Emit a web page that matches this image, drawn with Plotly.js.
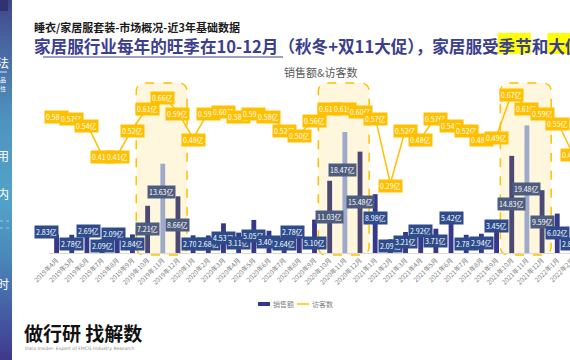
<!DOCTYPE html>
<html>
<head>
<meta charset="utf-8">
<script src="https://cdn.plot.ly/plotly-3.0.1.min.js"></script>
<style>
html,body{margin:0;padding:0;overflow:hidden;background:#fff;}
#chart{width:610px;height:360px;}
</style>
</head>
<body>
<div id="chart"></div>
<script>
// ---------------- data ----------------
const months = ["2019年4月","2019年5月","2019年6月","2019年7月","2019年8月","2019年9月","2019年10月","2019年11月","2019年12月",
  "2020年1月","2020年2月","2020年3月","2020年4月","2020年5月","2020年6月","2020年7月","2020年8月","2020年9月","2020年10月","2020年11月","2020年12月",
  "2021年1月","2021年2月","2021年3月","2021年4月","2021年5月","2021年6月","2021年7月","2021年8月","2021年9月","2021年10月","2021年11月","2021年12月",
  "2022年1月","2022年2月"];
const sales = [2.83,2.78,2.69,2.09,2.09,2.84,7.21,13.63,8.66,
  2.70,2.68,4.53,3.11,5.05,3.40,2.64,2.78,5.10,11.03,18.47,15.48,
  8.98,2.09,3.21,2.92,3.71,5.42,2.78,2.94,3.45,14.83,19.48,9.59,
  6.02,2.85];
const visitors = [0.58,0.57,0.54,0.41,0.41,0.52,0.61,0.66,0.59,
  0.48,0.59,0.60,0.58,0.59,0.58,0.52,0.50,0.56,0.61,0.61,0.60,
  0.57,0.29,0.52,0.48,0.57,0.54,0.52,0.48,0.49,0.67,0.61,0.59,
  0.55,0.42];
const peakPeriods = [["2019年10月","2019年11月","2019年12月"],["2020年10月","2020年11月","2020年12月"],["2021年10月","2021年11月","2021年12月"]];
const seriesNames = ["销售额","访客数"];
const unit = "亿";
const subTitle = "睡衣/家居服套装-市场概况-近3年基础数据";
const mainTitle = "家居服行业每年的旺季在10-12月（秋冬+双11大促），家居服受季节和大促";
const highlightWords = ["季节","大促"];
const chartTitle = "销售额&访客数";
const logoText = "做行研 找解数";
const logoSub = "Data Insider- Expert of FMCG Industry Research";
const sideChars = ["法","用","内","时"];
const sideSmall = ["品","性"];

// ---------------- layout geometry (pixels) ----------------
const FIG_W = 610, FIG_H = 360, L = 49, T = 86, PW = 531, PH = 167;
const N = months.length;
const PX = p => (p - L) / PW;
const PY = p => (T + PH - p) / PH;
const catPx = i => L + (i + 0.5) * PW / N;
const FONT = '"Noto Sans CJK SC", "Microsoft YaHei", sans-serif';

const NAVY = '#38388a', PEAK_SIDE = '#4b4874', PEAK_MID = '#9eaac9';
const LBL_NAVY = '#2e4c8c', LBL_PEAK = '#4e5c7e', GOLD = '#ffc000';

const peakIdx = {};
peakPeriods.forEach(p => p.forEach((m, k) => peakIdx[m] = k));
const barColors = months.map(m => (m in peakIdx) ? (peakIdx[m] === 1 ? PEAK_MID : PEAK_SIDE) : NAVY);
const lblColors = months.map(m => (m in peakIdx) ? LBL_PEAK : LBL_NAVY);

// label nudges (px) for bar labels that sit above the middle of the bar
const nudge = {0:[-10,12],2:[2,13],4:[-4,12],7:[-1,16],16:[-7,12],17:[0,-7],19:[-2,23],21:[0,6],24:[0,12],26:[0,17],29:[0,16]};

const annotations = [];
const shapes = [];

// sidebar gradient
const stops = [[0,[63,70,136]],[40,[71,99,160]],[120,[79,147,191]],[200,[82,163,201]],[260,[74,134,184]],[320,[68,87,160]],[360,[65,56,138]]];
function sideColor(y){
  for (let k=0;k<stops.length-1;k++){
    const [y0,c0]=stops[k],[y1,c1]=stops[k+1];
    if (y>=y0 && y<=y1){ const t=(y-y0)/(y1-y0); return 'rgb('+c0.map((c,j)=>Math.round(c+(c1[j]-c)*t)).join(',')+')'; }
  }
  return 'rgb(65,56,138)';
}
for (let y=0;y<360;y+=4){
  shapes.push({type:'rect',xref:'paper',yref:'paper',x0:PX(-2),x1:PX(12),y0:PY(y),y1:PY(y+4.5),fillcolor:sideColor(y+2),line:{width:0},layer:'above'});
}
shapes.push({type:'rect',xref:'paper',yref:'paper',x0:PX(-2),x1:PX(8),y0:PY(0),y1:PY(11),fillcolor:'#2f3470',line:{width:0},layer:'above'});
shapes.push({type:'line',xref:'paper',yref:'paper',x0:PX(0),x1:PX(7),y0:PY(72),y1:PY(72),line:{color:'rgba(255,255,255,0.8)',width:1},layer:'above'});
[221,228].forEach(y=>shapes.push({type:'line',xref:'paper',yref:'paper',x0:PX(0),x1:PX(12),y0:PY(y),y1:PY(y),line:{color:'rgba(255,255,255,0.55)',width:0.8,dash:'dot'},layer:'above'}));
const sideY = [62,155,193,283];
sideChars.forEach((c,k)=>annotations.push({xref:'paper',yref:'paper',x:PX(3),y:PY(sideY[k]),text:c,showarrow:false,xanchor:'center',yanchor:'middle',font:{family:FONT,size:12,color:'#ffffff'}}));
sideSmall.forEach((c,k)=>annotations.push({xref:'paper',yref:'paper',x:PX(3),y:PY(80+k*8),text:c,showarrow:false,xanchor:'center',yanchor:'middle',font:{family:FONT,size:6,color:'#ffffff'}}));

// peak highlight rounded rects
function rrect(x0,x1,y0,y1,r){
  const P=(x,y)=>PX(x).toFixed(5)+','+PY(y).toFixed(5);
  return 'M'+P(x0+r,y0)+' L'+P(x1-r,y0)+' Q'+P(x1,y0)+' '+P(x1,y0+r)+' L'+P(x1,y1-r)+' Q'+P(x1,y1)+' '+P(x1-r,y1)+
    ' L'+P(x0+r,y1)+' Q'+P(x0,y1)+' '+P(x0,y1-r)+' L'+P(x0,y0+r)+' Q'+P(x0,y0)+' '+P(x0+r,y0)+' Z';
}
const step = PW / N;
peakPeriods.forEach(p=>{
  const i0 = months.indexOf(p[0]), i1 = months.indexOf(p[p.length-1]);
  shapes.push({type:'path',xref:'paper',yref:'paper',path:rrect(catPx(i0)-0.75*step,catPx(i1)+0.6*step,83,255,9),
    fillcolor:'#fef6dd',line:{color:GOLD,width:1.5,dash:'dash'},layer:'below'});
});

// bar labels
sales.forEach((v,i)=>{
  const nd = nudge[i] || [0,0];
  annotations.push({xref:'x',yref:'y',x:months[i],y:v/2,xshift:nd[0],yshift:nd[1],text:v.toFixed(2)+unit,showarrow:false,
    bgcolor:lblColors[i],borderpad:1,font:{family:FONT,size:7,color:'#ffffff'}});
});
// line labels
visitors.forEach((v,i)=>{
  annotations.push({xref:'x',yref:'y2',x:months[i],y:v,yshift:-2,text:v.toFixed(2)+unit,showarrow:false,
    bgcolor:GOLD,borderpad:1,font:{family:FONT,size:7,color:'#ffffff'}});
});

// titles
annotations.push({xref:'paper',yref:'paper',x:PX(32),y:PY(27),xanchor:'left',yanchor:'middle',showarrow:false,
  text:'<b>'+subTitle+'</b>',font:{family:FONT,size:11,color:'#1a1a1a'}});
const TSIZE = 16.6;
const ctx = document.createElement('canvas').getContext('2d');
ctx.font = 'bold '+TSIZE+'px "Noto Sans CJK SC"';
const TX = 32;
highlightWords.forEach(w=>{
  const pos = mainTitle.lastIndexOf(w);
  const x0 = TX + 1 + ctx.measureText(mainTitle.slice(0,pos)).width;
  const x1 = x0 + ctx.measureText(w).width;
  shapes.push({type:'rect',xref:'paper',yref:'paper',x0:PX(x0),x1:PX(x1),y0:PY(33),y1:PY(54),fillcolor:'#ffff00',line:{width:0},layer:'below'});
});
annotations.push({xref:'paper',yref:'paper',x:PX(TX),y:PY(46),xanchor:'left',yanchor:'middle',showarrow:false,
  text:'<b>'+mainTitle+'</b>',font:{family:FONT,size:TSIZE,color:'#3b3f8e'}});
shapes.push({type:'line',xref:'paper',yref:'paper',x0:PX(43),x1:PX(283),y0:PY(57),y1:PY(57),line:{color:'#3b3f8e',width:1}});
annotations.push({xref:'paper',yref:'paper',x:PX(320),y:PY(72),xanchor:'center',yanchor:'middle',showarrow:false,
  text:chartTitle,font:{family:FONT,size:11,color:'#595959'}});
annotations.push({xref:'paper',yref:'paper',x:PX(22),y:PY(332),xanchor:'left',yanchor:'middle',showarrow:false,
  text:'<b>'+logoText+'</b>',font:{family:FONT,size:19,color:'#111111'}});
annotations.push({xref:'paper',yref:'paper',x:PX(23),y:PY(348),xanchor:'left',yanchor:'middle',showarrow:false,
  text:logoSub,font:{family:'"DejaVu Sans", sans-serif',size:4.6,color:'#8c8c8c'}});

// legend (drawn compactly, like the reference)
const LGY = 304;
shapes.push({type:'rect',xref:'paper',yref:'paper',x0:PX(258),x1:PX(270),y0:PY(LGY-2),y1:PY(LGY+2),fillcolor:NAVY,line:{width:0}});
annotations.push({xref:'paper',yref:'paper',x:PX(271),y:PY(LGY),xanchor:'left',yanchor:'middle',showarrow:false,
  text:seriesNames[0],font:{family:FONT,size:7,color:'#7f7f7f'}});
shapes.push({type:'line',xref:'paper',yref:'paper',x0:PX(297),x1:PX(309),y0:PY(LGY),y1:PY(LGY),line:{color:GOLD,width:1.5}});
annotations.push({xref:'paper',yref:'paper',x:PX(310),y:PY(LGY),xanchor:'left',yanchor:'middle',showarrow:false,
  text:seriesNames[1],font:{family:FONT,size:7,color:'#7f7f7f'}});

const traces = [
  {type:'bar',x:months,y:sales,name:seriesNames[0],marker:{color:barColors},width:0.32,yaxis:'y',hoverinfo:'skip'},
  {type:'scatter',mode:'lines',x:months,y:visitors,name:seriesNames[1],line:{color:GOLD,width:1.5},yaxis:'y2',hoverinfo:'skip'}
];

const layout = {
  width:FIG_W,height:FIG_H,
  margin:{l:L,r:FIG_W-L-PW,t:T,b:FIG_H-T-PH,pad:0},
  paper_bgcolor:'#ffffff',plot_bgcolor:'rgba(0,0,0,0)',
  font:{family:FONT},
  showlegend:false,
  xaxis:{type:'category',range:[-0.5,N-0.5],tickmode:'array',tickvals:months,ticktext:months,tickangle:-45,
    tickfont:{family:FONT,size:6.5,color:'#808080'},showline:true,linecolor:'#d9d9d9',linewidth:1,ticks:'',
    showgrid:false,zeroline:false,automargin:false,fixedrange:true},
  yaxis:{range:[0,25.5],visible:false,showgrid:false,zeroline:false,fixedrange:true},
  yaxis2:{range:[0,0.70],overlaying:'y',visible:false,showgrid:false,zeroline:false,fixedrange:true},
  shapes:shapes,
  annotations:annotations
};

Plotly.newPlot('chart',traces,layout,{staticPlot:true,displayModeBar:false});
</script>
</body>
</html>
